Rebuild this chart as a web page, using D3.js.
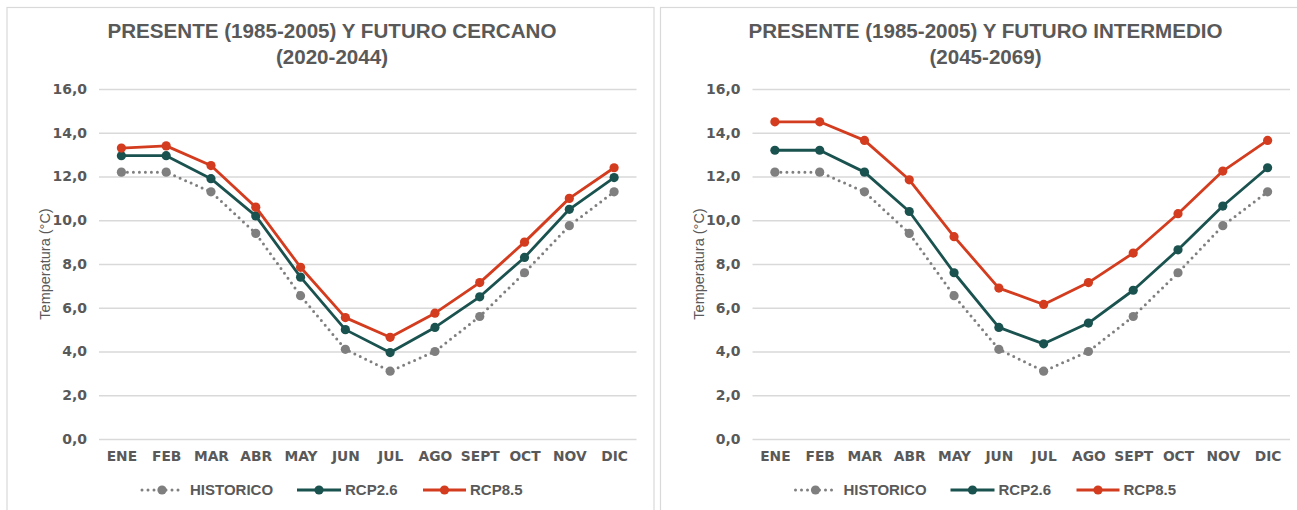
<!DOCTYPE html>
<html>
<head>
<meta charset="utf-8">
<script src="https://cdn.jsdelivr.net/npm/d3@7"></script>
<style>
  html, body { margin: 0; padding: 0; background: #ffffff; }
  svg { display: block; }
</style>
</head>
<body>
<svg id="chart" width="1297" height="510"></svg>
<script>
// ---- data ----
const months = ["ENE","FEB","MAR","ABR","MAY","JUN","JUL","AGO","SEPT","OCT","NOV","DIC"];
const yTicks = [0, 2, 4, 6, 8, 10, 12, 14, 16];
const historico = [12.2, 12.2, 11.3, 9.4, 6.55, 4.1, 3.1, 4.0, 5.6, 7.6, 9.75, 11.3];
const cercanoRcp26 = [12.95, 12.95, 11.9, 10.2, 7.4, 5.0, 3.95, 5.1, 6.5, 8.3, 10.5, 11.95];
const cercanoRcp85 = [13.3, 13.4, 12.5, 10.6, 7.85, 5.55, 4.65, 5.75, 7.15, 9.0, 11.0, 12.4];
const intermedioRcp26 = [13.2, 13.2, 12.2, 10.4, 7.6, 5.1, 4.35, 5.3, 6.8, 8.65, 10.65, 12.4];
const intermedioRcp85 = [14.5, 14.5, 13.65, 11.85, 9.25, 6.9, 6.15, 7.15, 8.5, 10.3, 12.25, 13.65];
const seriesNames = ["HISTORICO", "RCP2.6", "RCP8.5"];
const titles = [
  ["PRESENTE (1985-2005) Y FUTURO CERCANO", "(2020-2044)"],
  ["PRESENTE (1985-2005) Y FUTURO INTERMEDIO", "(2045-2069)"]
];
const yTitle = "Temperatura (°C)";

// ---- styles ----
const colors = { "HISTORICO": "#7f7f7f", "RCP2.6": "#1a524f", "RCP8.5": "#d33c1e" };
const textColor = "#595959";

const svg = d3.select("#chart");

const panels = [
  { x0: 7, data: [historico, cercanoRcp26, cercanoRcp85], title: titles[0] },
  { x0: 660.5, data: [historico, intermedioRcp26, intermedioRcp85], title: titles[1] }
];

const plotLeftOffset = 92;   // from panel left to plot left
const plotWidth = 537.5;
const yTop = 89, yBottom = 439;

panels.forEach(p => {
  const g = svg.append("g");
  // panel border
  g.append("rect")
    .attr("x", p.x0).attr("y", 7.5)
    .attr("width", 647).attr("height", 520)
    .attr("fill", "#ffffff").attr("stroke", "#d9d9d9").attr("stroke-width", 1.2);

  const left = p.x0 + plotLeftOffset;
  const x = d3.scalePoint().domain(months).range([left, left + plotWidth]).padding(0.5);
  const y = d3.scaleLinear().domain([0, 16]).range([yBottom, yTop]);

  // title
  const cx = p.x0 + 325;
  g.append("text").attr("x", cx).attr("y", 38)
    .attr("text-anchor", "middle")
    .style("font-family", "'Liberation Sans', Arial, sans-serif")
    .style("font-weight", "bold").style("font-size", "20.6px")
    .attr("fill", textColor).text(p.title[0]);
  g.append("text").attr("x", cx).attr("y", 64)
    .attr("text-anchor", "middle")
    .style("font-family", "'Liberation Sans', Arial, sans-serif")
    .style("font-weight", "bold").style("font-size", "20.6px")
    .attr("fill", textColor).text(p.title[1]);

  // y axis with gridlines
  const yAxis = d3.axisLeft(y).tickValues(yTicks)
    .tickSize(-plotWidth).tickPadding(12)
    .tickFormat(d => d3.format(".1f")(d).replace(".", ","));
  const ya = g.append("g").attr("transform", `translate(${left},0)`).call(yAxis);
  ya.select(".domain").remove();
  ya.selectAll(".tick line").attr("stroke", "#d9d9d9").attr("stroke-width", 1.4);
  ya.selectAll(".tick text")
    .style("font-family", "'DejaVu Sans', sans-serif")
    .style("font-weight", "bold").style("font-size", "14px")
    .attr("fill", textColor);

  // x axis labels
  const xAxis = d3.axisBottom(x).tickSize(0).tickPadding(12);
  const xa = g.append("g").attr("transform", `translate(0,${yBottom})`).call(xAxis);
  xa.select(".domain").remove();
  xa.selectAll(".tick text")
    .style("font-family", "'DejaVu Sans', sans-serif")
    .style("font-weight", "bold").style("font-size", "13.8px")
    .attr("fill", textColor);

  // y title
  g.append("text")
    .attr("transform", `translate(${p.x0 + 38},${(yTop + yBottom) / 2}) rotate(-90)`)
    .attr("text-anchor", "middle").attr("dy", "0.35em")
    .style("font-family", "'Liberation Sans', Arial, sans-serif")
    .style("font-size", "14.5px")
    .attr("fill", textColor).text(yTitle);

  // series
  const line = d3.line().x((d, i) => x(months[i])).y(d => y(d));
  p.data.forEach((vals, si) => {
    const name = seriesNames[si];
    const c = colors[name];
    const path = g.append("path").datum(vals)
      .attr("d", line).attr("fill", "none")
      .attr("stroke", c).attr("stroke-width", si === 0 ? 3 : 2.8)
      .attr("stroke-linejoin", "round");
    if (si === 0) path.attr("stroke-dasharray", "0,6").attr("stroke-linecap", "round");
    g.selectAll(null).data(vals).enter().append("circle")
      .attr("cx", (d, i) => x(months[i])).attr("cy", d => y(d))
      .attr("r", 4.6).attr("fill", c);
  });

  // legend
  const legendY = 490;
  const items = [
    { name: "HISTORICO", x1: 142, x2: 182, tx: 190 },
    { name: "RCP2.6", x1: 297, x2: 341, tx: 345 },
    { name: "RCP8.5", x1: 423, x2: 466, tx: 470 }
  ];
  const off = p.x0 - 7;
  items.forEach((it, i) => {
    const c = colors[it.name];
    const l = g.append("line")
      .attr("x1", it.x1 + off).attr("x2", it.x2 + off)
      .attr("y1", legendY).attr("y2", legendY)
      .attr("stroke", c).attr("stroke-width", i === 0 ? 3 : 2.8);
    if (i === 0) l.attr("stroke-dasharray", "0,6").attr("stroke-linecap", "round");
    g.append("circle").attr("cx", (it.x1 + it.x2) / 2 + off).attr("cy", legendY)
      .attr("r", 4.6).attr("fill", c);
    g.append("text").attr("x", it.tx + off).attr("y", legendY).attr("dy", "0.36em")
      .style("font-family", "'Liberation Sans', Arial, sans-serif")
      .style("font-weight", "bold").style("font-size", "15px")
      .attr("fill", textColor).text(it.name);
  });
});
</script>
</body>
</html>
